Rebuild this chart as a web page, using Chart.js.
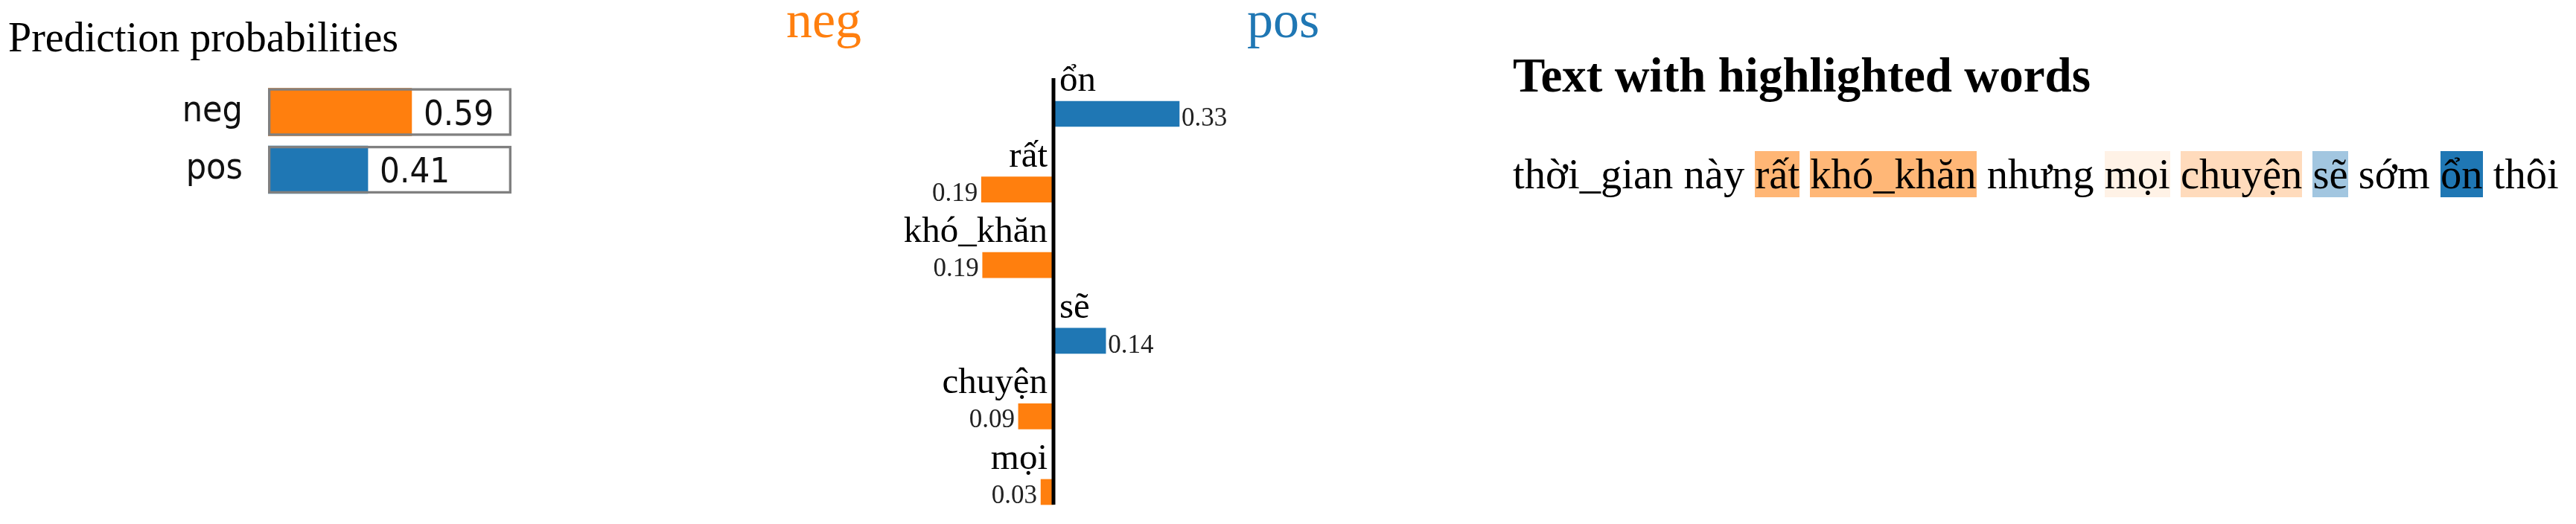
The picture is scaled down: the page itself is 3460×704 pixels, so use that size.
<!DOCTYPE html>
<html><head><meta charset="utf-8">
<script src="https://cdn.jsdelivr.net/npm/chart.js@4.4.1/dist/chart.umd.min.js"></script>
<style>
html,body{margin:0;padding:0;background:#fff;width:3460px;height:704px;overflow:hidden;}
.abs{position:absolute;}
#t1{left:11px;top:22px;font:56px/1 'Liberation Serif','Times New Roman',serif;color:#000;white-space:nowrap;}
#c1{left:0;top:0;}
#c2{left:1000px;top:0;}
#t3{left:2032px;top:69px;font:bold 65px/1 'Liberation Serif','Times New Roman',serif;color:#000;white-space:nowrap;}
#txt{left:2032px;top:206px;font:56.6px/1 'Liberation Serif','Times New Roman',serif;color:#000;white-space:nowrap;}
</style></head>
<body>
<div id="t1" class="abs">Prediction probabilities</div>
<canvas id="c1" class="abs" width="700" height="400"></canvas>
<canvas id="c2" class="abs" width="800" height="704"></canvas>
<div id="t3" class="abs">Text with highlighted words</div>
<div id="txt" class="abs"></div>
<script>
// ---- data ----
const probClasses = ['neg', 'pos'];
const probValues = [0.59, 0.41];
const probBox = [1, 1];
const featureLabels = ['ổn', 'rất', 'khó_khăn', 'sẽ', 'chuyện', 'mọi'];
const featureWeights = [0.33, -0.189, -0.186, 0.137, -0.092, -0.033];
const classNames = ['neg', 'pos'];
const textTokens = ['thời_gian', 'này', 'rất', 'khó_khăn', 'nhưng', 'mọi', 'chuyện', 'sẽ', 'sớm', 'ổn', 'thôi'];

const NEG = '#ff7f0e', POS = '#1f77b4';
const NEG_RGB = [255, 127, 14], POS_RGB = [31, 119, 180];
const SANS = "'DejaVu Sans Condensed', 'Liberation Sans', sans-serif";
const SERIF = "'Liberation Serif', 'Times New Roman', serif";

// ---- prediction probabilities ----
new Chart(document.getElementById('c1'), {
  type: 'bar',
  data: {
    labels: probClasses,
    datasets: [
      { data: probBox, backgroundColor: 'rgba(0,0,0,0)', borderColor: '#808080', borderWidth: 3,
        borderSkipped: false, grouped: false, barThickness: 64 },
      { data: probValues, backgroundColor: [NEG, POS], borderWidth: 0, grouped: false, barThickness: 64 }
    ]
  },
  options: {
    indexAxis: 'y', responsive: false, animation: false, events: [],
    layout: { padding: { left: 0, right: 13, top: 111.75, bottom: 133.25 } },
    plugins: { legend: { display: false }, tooltip: { enabled: false } },
    scales: {
      x: { display: false, min: 0, max: 1 },
      y: {
        grid: { display: false, drawTicks: false }, border: { display: false },
        ticks: { padding: 34, color: '#111', font: { family: SANS, size: 48 } },
        afterFit: (a) => { a.width = 360; }
      }
    }
  },
  plugins: [{
    id: 'probValues',
    afterDatasetsDraw(chart) {
      const ctx = chart.ctx, meta = chart.getDatasetMeta(1);
      ctx.save();
      ctx.font = '47px ' + SANS;
      ctx.fillStyle = '#111';
      ctx.textAlign = 'left';
      ctx.textBaseline = 'alphabetic';
      meta.data.forEach((el, i) => {
        ctx.fillText(probValues[i].toFixed(2), el.x + 16, el.y + 17);
      });
      ctx.restore();
    }
  }]
});

// ---- feature weights ----
new Chart(document.getElementById('c2'), {
  type: 'bar',
  data: {
    labels: featureLabels,
    datasets: [{
      data: featureWeights,
      backgroundColor: featureWeights.map(v => v > 0 ? POS : NEG),
      borderWidth: 0, barThickness: 34, clip: false
    }]
  },
  options: {
    indexAxis: 'y', responsive: false, animation: false, events: [],
    layout: { padding: { left: 159, right: 129, top: 153, bottom: 43 } },
    plugins: { legend: { display: false }, tooltip: { enabled: false } },
    scales: {
      x: { display: false, min: -0.5, max: 0.5 },
      y: { display: false, offset: false }
    }
  },
  plugins: [{
    id: 'featureText',
    afterDatasetsDraw(chart) {
      const ctx = chart.ctx, meta = chart.getDatasetMeta(0);
      const x0 = chart.scales.x.getPixelForValue(0);
      const area = chart.chartArea;
      const els = meta.data;
      ctx.save();
      // axis line
      const top = els[0].y - els[0].height / 2 - 31;
      const last = els[els.length - 1];
      const bottom = last.y + last.height / 2;
      ctx.fillStyle = '#000';
      ctx.fillRect(x0 - 2.5, top, 5, bottom - top);
      // class names
      ctx.font = '70px ' + SERIF;
      ctx.textBaseline = 'alphabetic';
      ctx.fillStyle = NEG; ctx.textAlign = 'right';
      ctx.fillText(classNames[0], area.left - 2, 50);
      ctx.fillStyle = POS; ctx.textAlign = 'left';
      ctx.fillText(classNames[1], area.right + 4, 50);
      // labels and values
      els.forEach((el, i) => {
        const w = featureWeights[i];
        const barTop = el.y - el.height / 2, barBottom = el.y + el.height / 2;
        ctx.fillStyle = '#000';
        ctx.font = '49px ' + SERIF;
        if (w > 0) { ctx.textAlign = 'left'; ctx.fillText(featureLabels[i], x0 + 8, barTop - 14); }
        else { ctx.textAlign = 'right'; ctx.fillText(featureLabels[i], x0 - 8, barTop - 14); }
        ctx.font = '35px ' + SERIF;
        ctx.fillStyle = '#222';
        const txt = Math.abs(w).toFixed(2);
        if (w > 0) { ctx.textAlign = 'left'; ctx.fillText(txt, el.x + 3, barBottom - 1); }
        else { ctx.textAlign = 'right'; ctx.fillText(txt, el.x - 5, barBottom - 2); }
      });
      ctx.restore();
    }
  }]
});

// ---- highlighted text ----
(function () {
  const maxW = Math.max(...featureWeights.map(Math.abs));
  const box = document.getElementById('txt');
  textTokens.forEach((tok, i) => {
    if (i > 0) box.appendChild(document.createTextNode(' '));
    const span = document.createElement('span');
    span.textContent = tok;
    const k = featureLabels.indexOf(tok);
    if (k >= 0) {
      const w = featureWeights[k];
      const c = w > 0 ? POS_RGB : NEG_RGB;
      span.style.backgroundColor = `rgba(${c[0]},${c[1]},${c[2]},${(Math.abs(w) / maxW).toFixed(3)})`;
    }
    box.appendChild(span);
  });
})();
</script>
</body></html>
